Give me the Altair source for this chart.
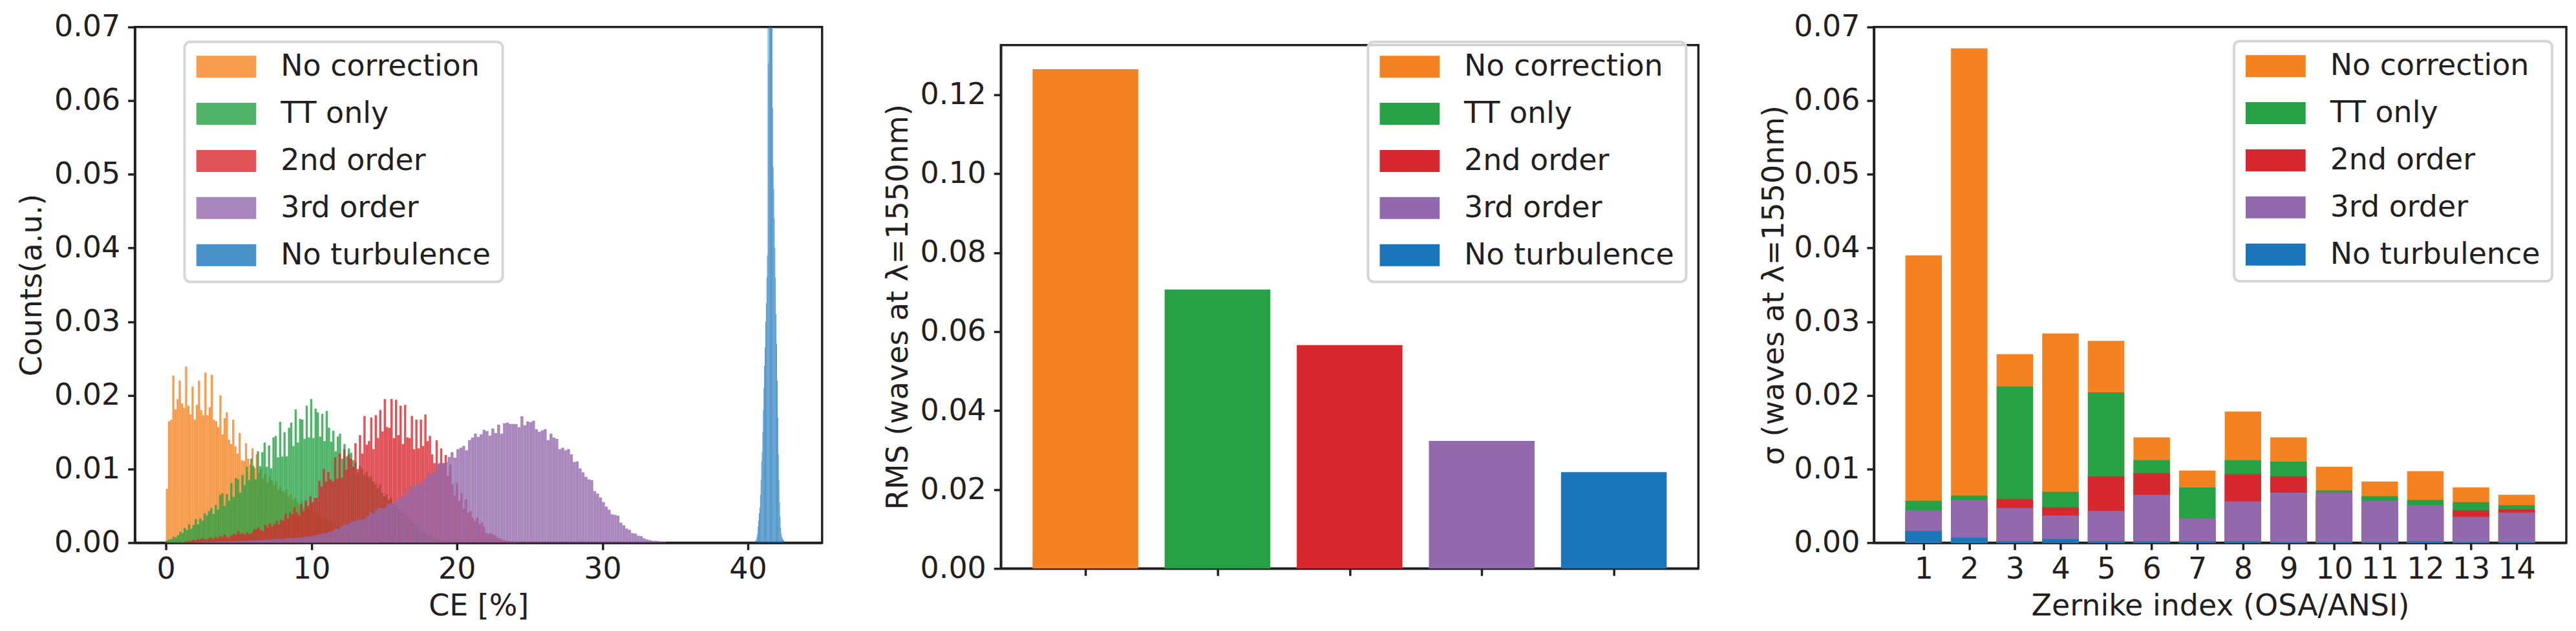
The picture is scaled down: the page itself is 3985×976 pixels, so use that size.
import altair as alt
import pandas as pd

TEXT = "#231f20"
FONT = "DejaVu Sans"

labels = ["No correction", "TT only", "2nd order", "3rd order", "No turbulence"]
colors = ["#f58220", "#27a145", "#d7282f", "#9369ad", "#1b75bb"]

# ---------------- left panel: CE histograms ----------------
hist_start = [0.0, 0.0, 1.33, 1.97, 40.48]
hist_width = [0.147, 0.1525, 0.155, 0.2, 0.04]

orange_hist = [
    0.0073, 0.0165, 0.0167, 0.0227, 0.0181, 0.0195, 0.0220, 0.0189, 0.0183, 0.0239,
    0.0186, 0.0174, 0.0212, 0.0167, 0.0187, 0.0220, 0.0180, 0.0173, 0.0231, 0.0173,
    0.0184, 0.0228, 0.0167, 0.0165, 0.0157, 0.0200, 0.0147, 0.0169, 0.0177, 0.0140,
    0.0134, 0.0167, 0.0131, 0.0121, 0.0149, 0.0112, 0.0111, 0.0135, 0.0114, 0.0106,
    0.0128, 0.0101, 0.0120,
    0.0095, 0.0100, 0.0088, 0.0093, 0.0082, 0.0090,
    0.0085, 0.0078, 0.0083, 0.0072, 0.0076, 0.0070, 0.0068,
    0.0072, 0.0062, 0.0066, 0.0058, 0.0061, 0.0055, 0.0052,
    0.0056, 0.0048, 0.0050, 0.0045, 0.0047, 0.0041, 0.0043,
    0.0038, 0.0040, 0.0035, 0.0033, 0.0034, 0.0029, 0.0030,
    0.0026, 0.0027, 0.0023, 0.0022, 0.0020, 0.0019, 0.0017,
    0.0015, 0.0014, 0.0012, 0.0011, 0.0010, 0.0008, 0.0007,
    0.0006, 0.0005, 0.0004, 0.0003, 0.0003, 0.0002, 0.0001, 0.0001, 0.0001,
]

green_hist = [
    0.0003, 0.0004, 0.0005, 0.0008, 0.0007, 0.0010, 0.0015, 0.0013, 0.0020, 0.0017,
    0.0025, 0.0019, 0.0024, 0.0032, 0.0025, 0.0033, 0.0030, 0.0040, 0.0037, 0.0043,
    0.0047, 0.0039, 0.0051, 0.0045, 0.0065, 0.0067, 0.0050, 0.0066, 0.0057, 0.0081,
    0.0062, 0.0088, 0.0086, 0.0068, 0.0092, 0.0078, 0.0103, 0.0085, 0.0114, 0.0104,
    0.0086, 0.0124, 0.0104, 0.0123, 0.0136, 0.0103, 0.0132, 0.0101, 0.0143, 0.0145,
    0.0116, 0.0164, 0.0117, 0.0150, 0.0117, 0.0156, 0.0163, 0.0131, 0.0181, 0.0136,
    0.0168, 0.0167, 0.0141, 0.0186, 0.0143, 0.0195, 0.0142, 0.0182, 0.0177, 0.0144,
    0.0175, 0.0138, 0.0179, 0.0156, 0.0137, 0.0152, 0.0124, 0.0144, 0.0148, 0.0114,
    0.0134, 0.0117, 0.0128, 0.0122, 0.0112, 0.0109, 0.0095, 0.0104,
    0.0100, 0.0092, 0.0096, 0.0089, 0.0090, 0.0083, 0.0079, 0.0074, 0.0079, 0.0068,
    0.0063, 0.0066, 0.0058, 0.0061, 0.0053, 0.0050, 0.0047, 0.0044, 0.0040, 0.0038,
    0.0035, 0.0031, 0.0029, 0.0026, 0.0023, 0.0021, 0.0018, 0.0016, 0.0014, 0.0012,
    0.0010, 0.0009, 0.0007, 0.0006, 0.0005, 0.0004, 0.0003, 0.0003, 0.0002, 0.0002,
    0.0001, 0.0001,
]

red_hist = [
    0.0002, 0.0002, 0.0003,
    0.0004, 0.0003, 0.0005, 0.0004, 0.0006, 0.0005, 0.0004, 0.0006, 0.0007, 0.0005, 0.0008, 0.0006,
    0.0009, 0.0008, 0.0011, 0.0008, 0.0007, 0.0010, 0.0012, 0.0011, 0.0016, 0.0012,
    0.0013, 0.0011, 0.0014, 0.0012, 0.0013, 0.0018, 0.0018, 0.0021, 0.0017, 0.0016,
    0.0024, 0.0021, 0.0026, 0.0022, 0.0025, 0.0029, 0.0025, 0.0031, 0.0030, 0.0039,
    0.0033, 0.0041, 0.0038, 0.0048, 0.0041, 0.0037, 0.0052, 0.0043, 0.0057, 0.0050,
    0.0063, 0.0055, 0.0061, 0.0061, 0.0084, 0.0076, 0.0100, 0.0083, 0.0096, 0.0086,
    0.0083, 0.0116, 0.0087, 0.0121, 0.0088, 0.0127, 0.0099, 0.0120, 0.0114, 0.0103,
    0.0135, 0.0100, 0.0146, 0.0121,
    0.0172, 0.0133, 0.0138, 0.0170, 0.0127, 0.0173, 0.0142, 0.0180, 0.0151,
    0.0195, 0.0157, 0.0156, 0.0195, 0.0142, 0.0194, 0.0146, 0.0186, 0.0134, 0.0187,
    0.0143, 0.0142, 0.0172, 0.0127, 0.0167, 0.0128, 0.0167, 0.0131, 0.0174, 0.0138,
    0.0145, 0.0120, 0.0108, 0.0139, 0.0107, 0.0128, 0.0108, 0.0119, 0.0091, 0.0106,
    0.0079, 0.0064, 0.0081, 0.0057, 0.0067, 0.0046, 0.0059, 0.0041, 0.0043, 0.0034,
    0.0029, 0.0034, 0.0025, 0.0028, 0.0022, 0.0013, 0.0012, 0.0013, 0.0011, 0.0010,
    0.0007, 0.0006, 0.0004, 0.0003, 0.0003, 0.0002, 0.0002, 0.0002, 0.0001,
]

purple_hist = [
    0.00005, 0.00005, 0.00008, 0.00008, 0.0001, 0.0001, 0.0001, 0.00012, 0.00012, 0.00015,
    0.00015, 0.00018, 0.0002,
    0.0002, 0.00022, 0.00022, 0.00025, 0.00025, 0.00028, 0.0003, 0.0003, 0.00033, 0.00035,
    0.00038, 0.0004, 0.00042,
    0.00045, 0.00048, 0.0005, 0.0005, 0.00052, 0.00055, 0.0006, 0.0006,
    0.00062, 0.00065, 0.0007, 0.00075, 0.0008,
    0.00085, 0.0009, 0.0010, 0.00105, 0.0012,
    0.0013, 0.0013, 0.0015, 0.0016, 0.0019,
    0.0019, 0.0022, 0.0024, 0.0025, 0.0027,
    0.0029, 0.0029, 0.0031, 0.0031,
    0.00324, 0.00368, 0.00412, 0.00394, 0.00447, 0.00473, 0.00464, 0.00473, 0.00526, 0.00534,
    0.00526, 0.00569, 0.00613, 0.00622, 0.00718, 0.00648, 0.00762, 0.00762, 0.00797, 0.00815,
    0.00797, 0.00876, 0.00955, 0.00929, 0.00955, 0.01051, 0.01086, 0.01078, 0.01095, 0.01165,
    0.01227, 0.01156, 0.01270, 0.01288, 0.01314, 0.01253, 0.01393, 0.01428, 0.01481, 0.01437,
    0.01472, 0.01533, 0.01516, 0.01454, 0.01551, 0.01489, 0.01603, 0.01481, 0.01621, 0.01630,
    0.01612, 0.01612, 0.01612, 0.01568, 0.01717, 0.01595, 0.01647, 0.01638, 0.01656, 0.01542,
    0.01507, 0.01524, 0.01542, 0.01393, 0.01481, 0.01428, 0.01410, 0.01270, 0.01288, 0.01253,
    0.01270, 0.01200, 0.01095, 0.01104, 0.01008, 0.00955, 0.00894, 0.00859, 0.00850, 0.00701,
    0.00666, 0.00613, 0.00552, 0.00491, 0.00447, 0.00385, 0.00377, 0.00368, 0.00272, 0.00237,
    0.00193, 0.00175, 0.00131, 0.00123, 0.00096, 0.00088, 0.00061, 0.00044, 0.00035, 0.00026,
    0.00026, 0.0002, 0.0001, 0.0001,
]

blue_hist = [
    0.0002, 0.0003, 0.0004, 0.0008, 0.0012, 0.0022, 0.0030, 0.0040, 0.0048, 0.0065,
    0.0085, 0.0110, 0.0123, 0.0150, 0.0180, 0.0210, 0.0240, 0.0265, 0.0300, 0.0325,
    0.0360, 0.0390, 0.0750, 0.0650, 0.0800, 0.0720, 0.0780, 0.0850, 0.0740, 0.0800,
    0.0590, 0.0510, 0.0480, 0.0440, 0.0400, 0.0360, 0.0310, 0.0270, 0.0220, 0.0170,
    0.0120, 0.0085, 0.0055, 0.0035, 0.0020, 0.0012, 0.0008, 0.0005, 0.0004, 0.0003,
    0.0002,
]

hist_values = [orange_hist, green_hist, red_hist, purple_hist, blue_hist]

rows = []
for lab, s, w, vals in zip(labels, hist_start, hist_width, hist_values):
    for i, v in enumerate(vals):
        rows.append({"series": lab, "x0": s + i * w, "x1": s + (i + 1) * w, "v": v})
hist_df = pd.DataFrame(rows)

# ---------------- middle panel: total RMS ----------------
rms_values = [0.1265, 0.0707, 0.0566, 0.0323, 0.0244]
mid_df = pd.DataFrame({"series": labels, "idx": list(range(5)), "v": rms_values})

# ---------------- right panel: per-Zernike sigma ----------------
zernike_idx = list(range(1, 15))
sigma_orange = [0.0390, 0.0671, 0.0256, 0.0284, 0.0274, 0.0143, 0.0098, 0.0178, 0.0143, 0.0103, 0.0083, 0.0097, 0.0075, 0.0065]
sigma_green = [0.0057, 0.0064, 0.0212, 0.0069, 0.0204, 0.0112, 0.0075, 0.0112, 0.0110, 0.0071, 0.0063, 0.0058, 0.0055, 0.0051]
sigma_red = [0.0040, 0.0050, 0.0059, 0.0048, 0.0090, 0.0094, 0.0030, 0.0093, 0.0090, 0.0060, 0.0050, 0.0045, 0.0044, 0.0045]
sigma_purple = [0.0044, 0.0058, 0.0047, 0.0037, 0.0043, 0.0065, 0.0033, 0.0056, 0.0068, 0.0068, 0.0057, 0.0051, 0.0035, 0.0041]
sigma_blue = [0.0016, 0.0007, 0.0002, 0.0005, 0.0002, 0.0002, 0.0002, 0.0002, 0.0001, 0.0001, 0.0001, 0.0002, 0.0001, 0.0001]
sigma_values = [sigma_orange, sigma_green, sigma_red, sigma_purple, sigma_blue]

zrows = []
for lab, vals in zip(labels, sigma_values):
    for i, v in zip(zernike_idx, vals):
        zrows.append({"series": lab, "idx": i, "v": v})
zern_df = pd.DataFrame(zrows)

BAR_W = 0.8
color_scale = alt.Scale(domain=labels, range=colors)
SWATCH = "M-1,-0.366L1,-0.366L1,0.366L-1,0.366Z"


def make_legend(x, y, opacity):
    return alt.Legend(
        title=None, orient="none", legendX=x, legendY=y, direction="vertical",
        symbolType=SWATCH, symbolSize=8649, symbolStrokeWidth=0, symbolOpacity=opacity,
        clipHeight=41, rowPadding=26, labelOffset=38, padding=18,
        labelFontSize=46, labelFont=FONT, labelColor=TEXT, labelLimit=800,
        strokeColor="#d6d6d6", cornerRadius=9, fillColor="rgba(255,255,255,0.8)",
    )


left = alt.Chart(hist_df).mark_rect(opacity=0.8, clip=True).encode(
    x=alt.X("x0:Q", scale=alt.Scale(domain=[-2.13, 45.1], nice=False, zero=False),
            axis=alt.Axis(values=[0, 10, 20, 30, 40], format="d", title="CE [%]")),
    x2="x1:Q",
    y=alt.Y("v:Q", scale=alt.Scale(domain=[0, 0.07], nice=False),
            axis=alt.Axis(values=[0, 0.01, 0.02, 0.03, 0.04, 0.05, 0.06, 0.07], format=".2f",
                          title="Counts(a.u.)")),
    y2=alt.datum(0),
    color=alt.Color("series:N", scale=color_scale, legend=make_legend(77, 23, 0.8)),
).properties(width=1065, height=799)

mid_chart = alt.Chart(mid_df).transform_calculate(
    a=f"datum.idx - {BAR_W / 2}", b=f"datum.idx + {BAR_W / 2}"
).mark_rect().encode(
    x=alt.X("a:Q", scale=alt.Scale(domain=[-0.64, 4.64], nice=False, zero=False),
            axis=alt.Axis(values=[0, 1, 2, 3, 4], labels=False, title=None)),
    x2="b:Q",
    y=alt.Y("v:Q", scale=alt.Scale(domain=[0, 0.1326], nice=False),
            axis=alt.Axis(values=[0, 0.02, 0.04, 0.06, 0.08, 0.10, 0.12], format=".2f",
                          title="RMS (waves at λ=1550nm)")),
    y2=alt.datum(0),
    color=alt.Color("series:N", scale=color_scale, legend=make_legend(569, 23, 1.0)),
).properties(width=1081, height=811)

spacer = alt.Chart(pd.DataFrame({"s": [0]})).mark_point(opacity=0).encode(
    x=alt.value(0), y=alt.value(0)
).properties(width=1081, height=26, view=alt.ViewBackground(strokeOpacity=0))

middle = alt.vconcat(spacer, mid_chart, spacing=0)

right = alt.Chart(zern_df).transform_calculate(
    a=f"datum.idx - {BAR_W / 2}", b=f"datum.idx + {BAR_W / 2}"
).mark_rect().encode(
    x=alt.X("a:Q", scale=alt.Scale(domain=[-0.09, 15.09], nice=False, zero=False),
            axis=alt.Axis(values=zernike_idx, format="d", title="Zernike index (OSA/ANSI)")),
    x2="b:Q",
    y=alt.Y("v:Q", scale=alt.Scale(domain=[0, 0.07], nice=False),
            axis=alt.Axis(values=[0, 0.01, 0.02, 0.03, 0.04, 0.05, 0.06, 0.07], format=".2f",
                          title="σ (waves at λ=1550nm)", labelPadding=11, titlePadding=6)),
    y2=alt.datum(0),
    color=alt.Color("series:N", scale=color_scale, legend=make_legend(558, 22, 1.0)),
).properties(width=1073, height=799)

chart = alt.hconcat(left, middle, right, spacing=90).resolve_scale(color="independent").properties(
    padding={"left": 16, "top": 8, "right": 5, "bottom": 5}
).configure_view(
    stroke=TEXT, strokeWidth=3.5
).configure_axis(
    labelFont=FONT, titleFont=FONT, labelFontSize=46, titleFontSize=46,
    titleFontWeight="normal", labelColor=TEXT, titleColor=TEXT, tickColor=TEXT,
    domainColor=TEXT, tickSize=11, tickWidth=3.5, domainWidth=3.5, grid=False,
    zindex=1, labelFlush=False, labelOverlap=False,
).configure_axisX(
    labelPadding=8, titlePadding=12
).configure_axisY(
    labelPadding=12, titlePadding=10
).configure_legend(
    strokeWidth=4
)

chart.save("out.html", embed_options={"renderer": "svg", "actions": False})
